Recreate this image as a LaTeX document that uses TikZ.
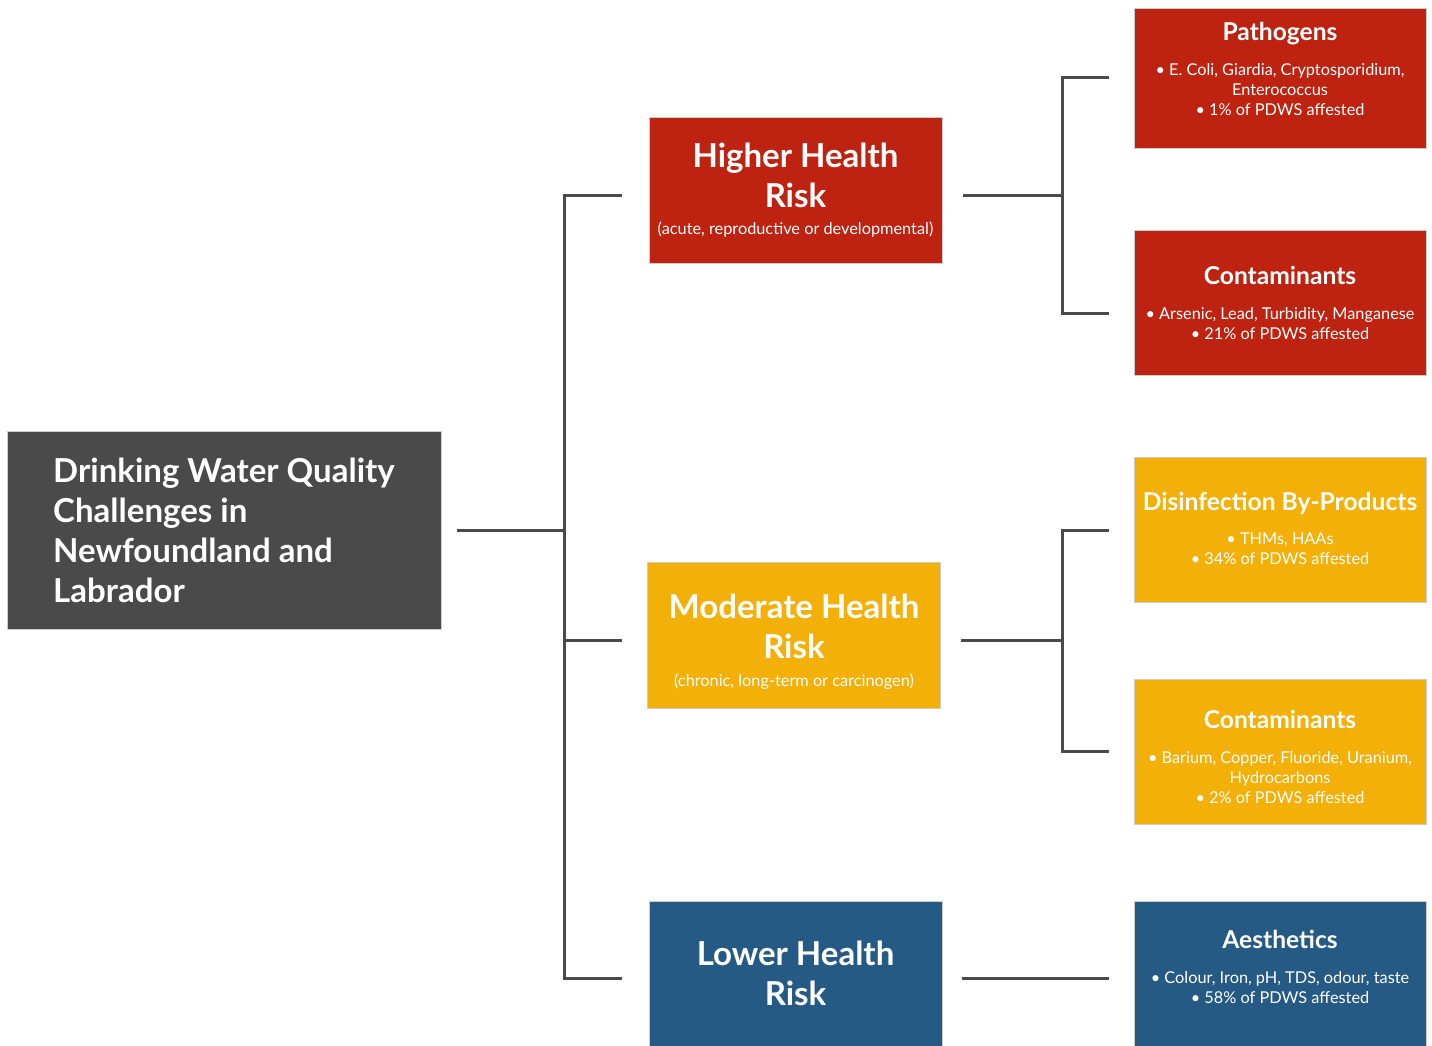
\documentclass[tikz,border=0pt]{standalone}
\usepackage{fontspec}
\setmainfont{Lato}
\usetikzlibrary{positioning}
\definecolor{rootgray}{HTML}{4A4A4A}
\definecolor{riskred}{HTML}{BE2311}
\definecolor{riskyellow}{HTML}{F2B009}
\definecolor{riskblue}{HTML}{255A84}
\definecolor{linkgray}{HTML}{4A4A4A}
\newcommand{\bigtitle}{\bfseries\fontsize{33}{40}\selectfont}
\newcommand{\smalltitle}{\bfseries\fontsize{24.6}{28}\selectfont}
\newcommand{\subtext}{\mdseries\fontsize{16.3}{20}\selectfont}
\tikzset{
  box/.style={rectangle, inner sep=0pt, text=white, align=center, draw=white!80!black, line width=0.6pt},
  riskbox/.style={box, font=\bigtitle, minimum width=293, minimum height=146},
  itembox/.style={box, font=\subtext, minimum width=292, minimum height=145},
  link/.style={draw=linkgray, line width=3pt},
}
\begin{document}
\begin{tikzpicture}[x=1pt,y=-1pt]
\useasboundingbox (0,0) rectangle (1432,1045);
% main box
\node[box, fill=rootgray, font=\bigtitle, minimum width=434, minimum height=198, align=left] (root) at (224,530)
  {Drinking Water Quality\\ Challenges in\\ Newfoundland and\\ Labrador};
% risk levels
\node[riskbox, fill=riskred] (higher) at (795.5,190)
  {Higher Health\\ Risk\\[-13pt] {\subtext (acute, reproductive or developmental)}};
\node[riskbox, fill=riskyellow] (moderate) at (794,635)
  {\mbox{}\\[-2pt] Moderate Health\\ Risk\\[-12pt] {\subtext (chronic, long-term or carcinogen)}};
\node[riskbox, fill=riskblue, minimum height=154] (lower) at (795.5,978)
  {Lower Health\\ Risk\\[-30pt] \mbox{}};
% items
\node[itembox, fill=riskred, minimum height=140] (pathogens) at (1280,78)
  {{\smalltitle Pathogens}\\[15pt] \textbullet{} E. Coli, Giardia, Cryptosporidium,\\ Enterococcus\\ \textbullet{} 1\% of PDWS affested\\[-2pt] \mbox{}};
\node[itembox, fill=riskred] (contamred) at (1280,302.5)
  {{\smalltitle Contaminants}\\[15pt] \textbullet{} Arsenic, Lead, Turbidity, Manganese\\ \textbullet{} 21\% of PDWS affested};
\node[itembox, fill=riskyellow] (byproducts) at (1280,530)
  {{\smalltitle Disinfection By-Products}\\[14pt] \textbullet{} THMs, HAAs\\ \textbullet{} 34\% of PDWS affested\\[-16pt] \mbox{}};
\node[itembox, fill=riskyellow] (contamyellow) at (1280,751.5)
  {\mbox{}\\[9.5pt] {\smalltitle Contaminants}\\[15pt] \textbullet{} Barium, Copper, Fluoride, Uranium,\\ Hydrocarbons\\ \textbullet{} 2\% of PDWS affested};
\node[itembox, fill=riskblue, minimum height=154] (aesthetics) at (1280,978)
  {{\smalltitle Aesthetics}\\[15pt] \textbullet{} Colour, Iron, pH, TDS, odour, taste\\ \textbullet{} 58\% of PDWS affested\\[2pt] \mbox{}};
% bus and tap coordinates
\coordinate (busroot) at (564,530);
\coordinate (bushigh) at (1062,195);
\coordinate (busmod) at (1062,640);
\coordinate (taphigher) at (622,195);
\coordinate (tapmoderate) at (622,640);
\coordinate (taplower) at (622,978);
\coordinate (tappath) at (1109,77);
\coordinate (tapcontred) at (1109,313);
% connectors
\draw[link] ([xshift=16]root.east) -- (busroot);
\draw[link] (taphigher) -| (busroot) |- (taplower);
\draw[link] (busroot |- tapmoderate) -- (tapmoderate);
\draw[link] ([xshift=21]higher.east |- bushigh) -- (bushigh);
\draw[link] (tappath) -| (bushigh) |- (tapcontred);
\draw[link] ([xshift=20]moderate.east |- busmod) -- (busmod);
\draw[link] ([xshift=-25]byproducts.west) -| (busmod) |- ([xshift=-25]contamyellow.west);
\draw[link] ([xshift=20]lower.east) -- ([xshift=-25]aesthetics.west);
\end{tikzpicture}
\end{document}
